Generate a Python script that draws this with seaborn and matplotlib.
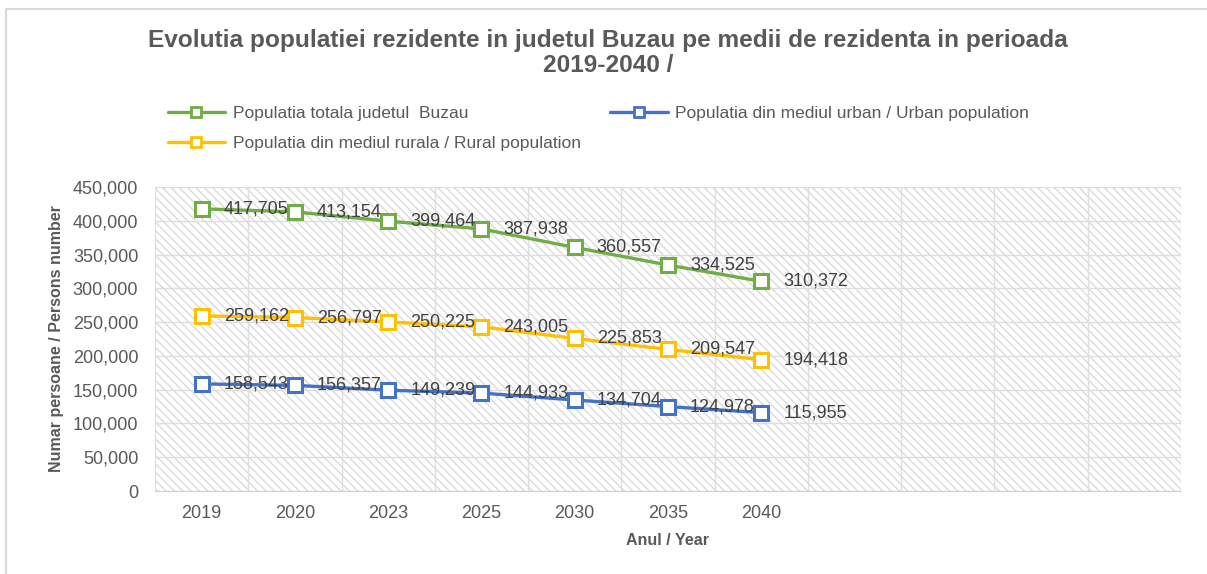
import numpy as np
import pandas as pd
import matplotlib
matplotlib.use("Agg")
import matplotlib.pyplot as plt
import seaborn as sns
from matplotlib.patches import Rectangle
from matplotlib.lines import Line2D
from matplotlib.ticker import FuncFormatter

years = ['2019', '2020', '2023', '2025', '2030', '2035', '2040']
total = [417705, 413154, 399464, 387938, 360557, 334525, 310372]
urban = [158543, 156357, 149239, 144933, 134704, 124978, 115955]
rural = [259162, 256797, 250225, 243005, 225853, 209547, 194418]
n_slots = 11  # the category axis has 4 empty slots after 2040

labels = ['Populatia totala judetul  Buzau',
          'Populatia din mediul urban / Urban population',
          'Populatia din mediul rurala / Rural population']
colors = ['#70AD47', '#4472C4', '#FFC000']

df = pd.DataFrame({'pos': np.arange(len(years)), 'year': years,
                   labels[0]: total, labels[1]: urban, labels[2]: rural})

sns.set_style("white")
plt.rcParams['font.family'] = ['Liberation Sans', 'DejaVu Sans']

fig = plt.figure(figsize=(12.07, 5.74), dpi=100)
ax = fig.add_axes([155/1207, 1-491/574, (1181-155)/1207, (491-187)/574])

# hatched plot background
ax.add_patch(Rectangle((0, 0), 1, 1, transform=ax.transAxes, facecolor='white',
                       edgecolor='#dadada', hatch='\\\\\\\\', lw=0, zorder=0))

handles = []
for lab, col in zip(labels, colors):
    sns.lineplot(data=df, x='pos', y=lab, color=col, lw=2.4, marker='s',
                 markersize=10, markerfacecolor='white', markeredgecolor=col,
                 markeredgewidth=2.2, ax=ax, zorder=3)
    for x, v in zip(df['pos'], df[lab]):
        ax.annotate(f'{v:,}', (x, v), xytext=(22, 0), textcoords='offset pixels',
                    ha='left', va='center', fontsize=13, color='#404040', zorder=4)
    handles.append(Line2D([], [], color=col, lw=2.4, marker='s', markersize=7,
                          markerfacecolor='white', markeredgecolor=col,
                          markeredgewidth=2))

ax.set_xlim(-0.5, n_slots - 0.5)
ax.set_ylim(0, 450000)
ax.set_yticks(np.arange(0, 450001, 50000))
ax.yaxis.set_major_formatter(FuncFormatter(lambda v, p: f'{v:,.0f}'))
ax.set_xticks(df['pos'])
ax.set_xticklabels(years)
ax.set_xticks(np.arange(-0.5, n_slots, 1), minor=True)
ax.tick_params(axis='x', which='major', length=0, pad=10, labelsize=13, labelcolor='#595959')
ax.tick_params(axis='x', which='minor', length=5, color='#d9d9d9', width=1)
ax.tick_params(axis='y', length=0, pad=12, labelsize=13, labelcolor='#595959')
ax.set_axisbelow(True)
ax.grid(axis='y', which='major', color='#dedede', lw=1)
ax.grid(axis='x', which='minor', color='#dedede', lw=1)
ax.grid(axis='x', which='major', visible=False)
for s in ['left', 'right', 'top']:
    ax.spines[s].set_visible(False)
ax.spines['bottom'].set_color('#d0d0d0')

ax.set_xlabel('Anul / Year', fontsize=11.5, fontweight='bold', color='#595959', labelpad=8)
ax.set_ylabel('Numar persoane / Persons number', fontsize=11.5, fontweight='bold',
              color='#595959', labelpad=6)

fig.text(608/1207, 1-40/574, 'Evolutia populatiei rezidente in judetul Buzau pe medii de rezidenta in perioada',
         ha='center', va='center', fontsize=17.6, fontweight='bold', color='#595959')
fig.text(608/1207, 1-66/574, '2019-2040 /', ha='center', va='center',
         fontsize=17.6, fontweight='bold', color='#595959')

order = [handles[0], handles[2], handles[1]]
order_lab = [labels[0], labels[2], labels[1]]
leg = fig.legend(order, order_lab, ncol=2, loc='upper left',
                 bbox_to_anchor=(152/1207, 1-90/574), frameon=False, fontsize=12.5,
                 handlelength=3.3, handletextpad=0.45, columnspacing=1.7,
                 labelspacing=0.85, labelcolor='#595959')

# chart-area border (left and top edges visible in the reference)
fig.add_artist(Line2D([6/1207, 6/1207, 1], [0, 1-9/574, 1-9/574],
                      transform=fig.transFigure, color='#d9d9d9', lw=1.5))

fig.savefig('out.png', dpi=100)
